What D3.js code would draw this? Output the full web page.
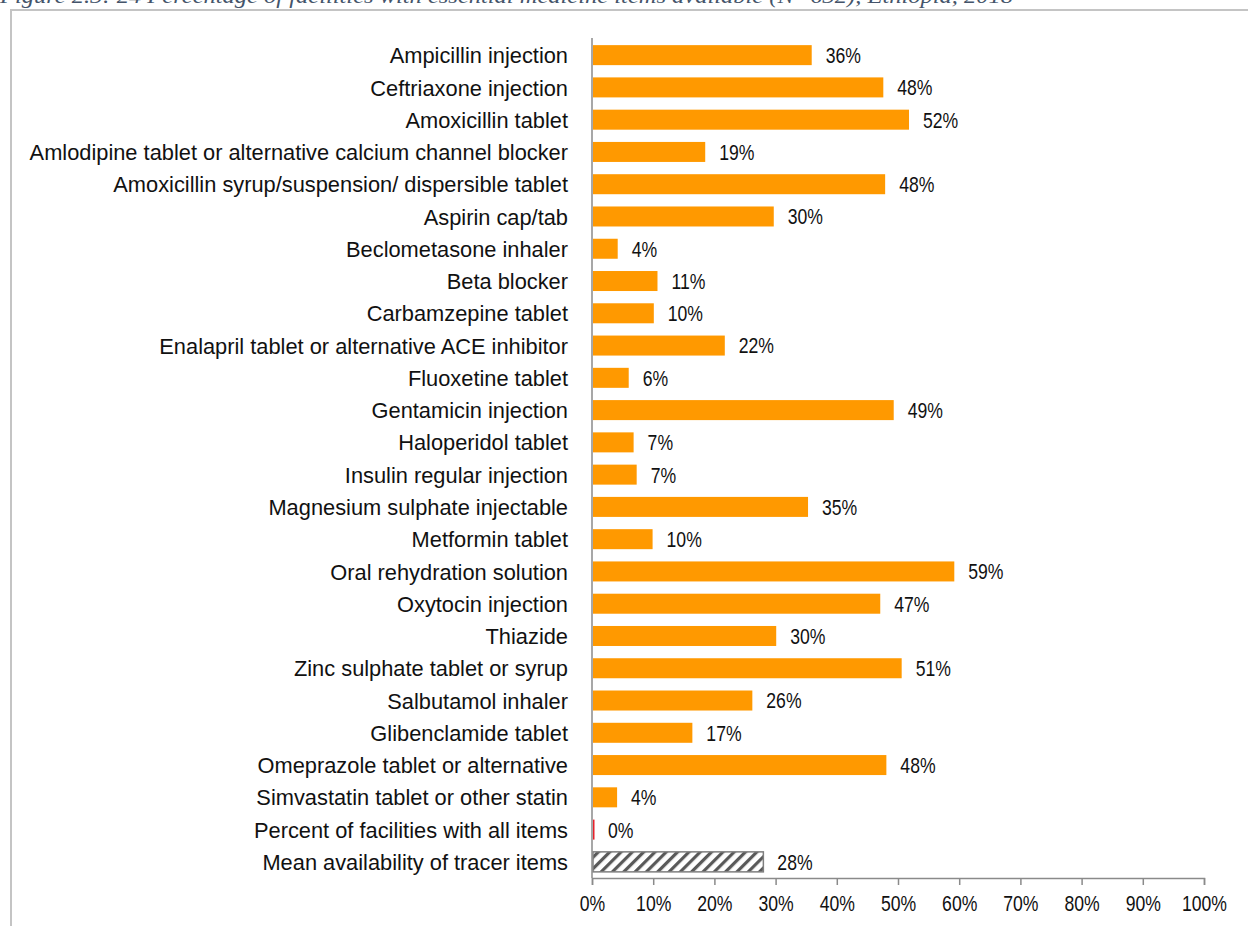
<!DOCTYPE html>
<html><head><meta charset="utf-8">
<script src="https://cdn.jsdelivr.net/npm/d3@7"></script>
<style>
html,body{margin:0;padding:0;background:#fff;}
svg{display:block;}
</style></head>
<body>
<svg id="chart" width="1248" height="926"></svg>
<script>
const categories = [
  "Ampicillin injection",
  "Ceftriaxone injection",
  "Amoxicillin tablet",
  "Amlodipine tablet or alternative calcium channel blocker",
  "Amoxicillin syrup/suspension/ dispersible tablet",
  "Aspirin cap/tab",
  "Beclometasone inhaler",
  "Beta blocker",
  "Carbamzepine tablet",
  "Enalapril tablet or alternative ACE inhibitor",
  "Fluoxetine tablet",
  "Gentamicin injection",
  "Haloperidol tablet",
  "Insulin regular injection",
  "Magnesium sulphate injectable",
  "Metformin tablet",
  "Oral rehydration solution",
  "Oxytocin injection",
  "Thiazide",
  "Zinc sulphate tablet or syrup",
  "Salbutamol inhaler",
  "Glibenclamide tablet",
  "Omeprazole tablet or alternative",
  "Simvastatin tablet or other statin",
  "Percent of facilities with all items",
  "Mean availability of tracer items"
];
const values = [35.9, 47.6, 51.8, 18.5, 47.9, 29.7, 4.2, 10.7, 10.1, 21.7, 6.0, 49.3, 6.8, 7.3, 35.3, 9.9, 59.2, 47.1, 30.1, 50.6, 26.2, 16.4, 48.1, 4.1, 0.3, 28.0];
const valueLabels = ["36%","48%","52%","19%","48%","30%","4%","11%","10%","22%","6%","49%","7%","7%","35%","10%","59%","47%","30%","51%","26%","17%","48%","4%","0%","28%"];
const barKinds = ["normal","normal","normal","normal","normal","normal","normal","normal","normal","normal","normal","normal","normal","normal","normal","normal","normal","normal","normal","normal","normal","normal","normal","normal","all","mean"];
const xTicks = [0,10,20,30,40,50,60,70,80,90,100];
const titleText = "Figure 2.3: 24 Percentage of facilities with essential medicine items available (N=632), Ethiopia, 2018";

const svg = d3.select("#chart");
const sans = "'Liberation Sans',Arial,sans-serif";
const squeeze = 0.8;

// frame
svg.append("rect").attr("x",11).attr("y",10).attr("width",1300).attr("height",1000)
  .attr("fill","none").attr("stroke","#c4c4c4").attr("stroke-width",2);

// title (cut off at top, as in the reference)
svg.append("text").attr("x",0).attr("y",3)
  .attr("font-family","'Liberation Serif','DejaVu Serif',serif").attr("font-style","italic")
  .attr("font-size",20).attr("fill","#44546A")
  .attr("textLength",1013).attr("lengthAdjust","spacingAndGlyphs")
  .text(titleText);

const x = d3.scaleLinear().domain([0,100]).range([592,1204]);
const y = d3.scaleBand().domain(categories).range([39,878]).paddingInner(0.38).paddingOuter(0.19);

// hatch pattern
const defs = svg.append("defs");
const pat = defs.append("pattern").attr("id","hatch").attr("patternUnits","userSpaceOnUse")
  .attr("width",8).attr("height",8).attr("patternTransform","rotate(45)");
pat.append("rect").attr("width",8).attr("height",8).attr("fill","#fff");
pat.append("rect").attr("x",0).attr("y",0).attr("width",3.2).attr("height",8).attr("fill","#595959");

const rows = svg.append("g");
categories.forEach((c,i)=>{
  const kind = barKinds[i];
  const r = rows.append("rect")
    .attr("x", x(0)+1)
    .attr("y", y(c))
    .attr("width", Math.max(0, x(values[i]) - x(0) - 1))
    .attr("height", y.bandwidth());
  if(kind==="normal") r.attr("fill","#FF9900");
  else if(kind==="all") r.attr("fill","#E8202A").attr("width",1.5);
  else r.attr("fill","url(#hatch)").attr("stroke","#7f7f7f").attr("stroke-width",1.5);

  const lx = (kind==="all" ? x(0)+2 : x(values[i])) + 14;
  const ly = y(c)+y.bandwidth()/2;
  rows.append("text")
    .attr("transform", `translate(${lx},${ly}) scale(${squeeze},1)`)
    .attr("dy","0.36em")
    .attr("font-family",sans).attr("font-size",22).attr("fill","#111")
    .text(valueLabels[i]);

  rows.append("text")
    .attr("transform", `translate(568,${ly}) scale(0.97,1)`)
    .attr("dy","0.36em")
    .attr("text-anchor","end")
    .attr("font-family",sans).attr("font-size",22.5).attr("fill","#111")
    .text(c);
});

// x axis
const xAxis = d3.axisBottom(x).tickValues(xTicks).tickFormat(d=>d+"%").tickSizeInner(7).tickSizeOuter(7).tickPadding(10);
const gx = svg.append("g").attr("transform","translate(0,878)").call(xAxis);
gx.select(".domain").attr("stroke","#8a8a8a").attr("stroke-width",1.5);
gx.selectAll(".tick line").attr("stroke","#8a8a8a").attr("stroke-width",1.5);
gx.selectAll(".tick text")
  .attr("font-family",sans).attr("font-size",22).attr("fill","#111")
  .each(function(){
    const t = d3.select(this);
    const yy = +t.attr("y");
    t.attr("y",null).attr("transform",`translate(0,${yy}) scale(${squeeze},1)`);
  });

// y axis line
svg.append("line").attr("x1",592).attr("x2",592).attr("y1",38).attr("y2",878)
  .attr("stroke","#8a8a8a").attr("stroke-width",1.5);
</script>
</body></html>
